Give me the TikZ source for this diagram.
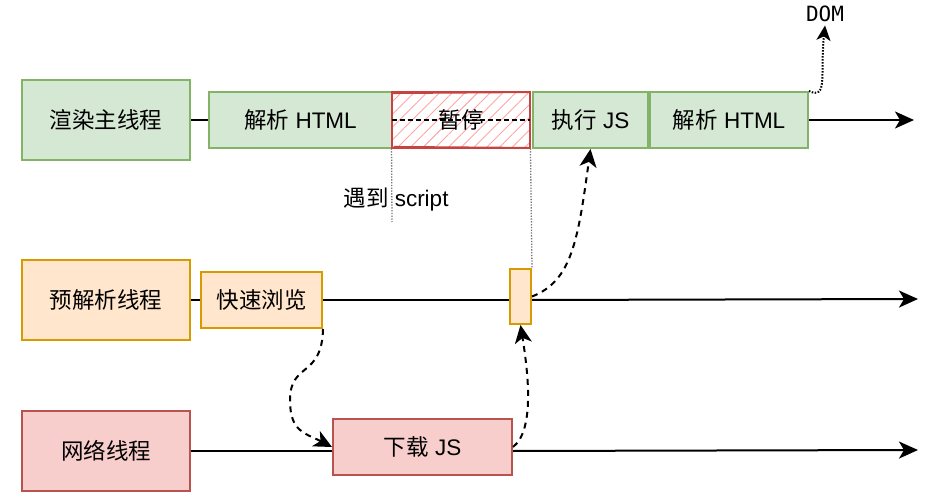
\documentclass[tikz,border=0pt]{standalone}
\usepackage{fontspec}
\setmainfont{Liberation Sans}
\newfontfamily\cjk{Noto Sans CJK SC}
\newfontfamily\monofont{DejaVu Sans Mono}
\usetikzlibrary{arrows.meta, patterns.meta}

\definecolor{greenfill}{HTML}{D5E8D4}
\definecolor{greenline}{HTML}{82B366}
\definecolor{orangefill}{HTML}{FFE6CC}
\definecolor{orangeline}{HTML}{D79B00}
\definecolor{redfill}{HTML}{F8CECC}
\definecolor{redline}{HTML}{B85450}

\begin{document}
\begin{tikzpicture}[
    x=1pt, y=-1pt,
    every node/.style = {font=\fontsize{22.5}{26}\selectfont},
    box/.style        = {rectangle, draw, line width=2pt, inner sep=0pt},
    greenbox/.style   = {box, fill=greenfill, draw=greenline},
    orangebox/.style  = {box, fill=orangefill, draw=orangeline},
    redbox/.style     = {box, fill=redfill, draw=redline},
    thread/.style     = {minimum width=168pt, minimum height=80pt},
    task/.style       = {minimum height=56pt},
    tl/.style         = {line width=2pt},
    tlarrow/.style    = {tl, -{Stealth[length=19pt,width=17pt,inset=5pt]}},
    flow/.style       = {line width=2pt, dash pattern=on 6pt off 5pt,
                         -{Stealth[length=18pt,width=17pt,inset=5pt]}},
    guide/.style      = {line width=1.3pt, dash pattern=on 1.3pt off 1.5pt, gray!90!black}
    ]
      \useasboundingbox (0,0) rectangle (939,494);

      % threads --------------------------------------------------
      \node[greenbox,thread]   (main) at (106,120) {\cjk 渲染主线程};
      \node[orangebox,thread]  (pre)  at (106,300) {\cjk 预解析线程};
      \node[redbox,thread]     (net)  at (106,451) {\cjk 网络线程};

      % main thread tasks ---------------------------------------
      \node[greenbox,task,minimum width=183pt] (parse1) at (300.5,120) {{\cjk 解析} HTML};
      \node[box,task,minimum width=138pt,draw=redline!80!red,fill=white,
            pattern={Lines[angle=45,distance=9pt,line width=0.9pt]},
            pattern color=red!35] (pause) at (461,120) {};
      \draw[redline!80!red, line width=1pt] ([shift={(2,-2)}]pause.south west) -- ([shift={(-1,-1)}]pause.south east)
            ([shift={(1,2)}]pause.north west) -- ([shift={(-2,1)}]pause.north east);
      \draw[line width=1.2pt, dash pattern=on 5pt off 3pt] (pause.west) -- (pause.east);
      \node (pausetext) at (461,120) {\cjk 暂停};
      \node[greenbox,task,minimum width=115pt] (exec)   at (590.5,120) {{\cjk 执行} JS};
      \node[greenbox,task,minimum width=158pt] (parse2) at (729,120)   {{\cjk 解析} HTML};

      % preparse tasks ------------------------------------------
      \node[orangebox,task,minimum width=121pt] (skim)    at (261.5,300) {\cjk 快速浏览};
      \node[orangebox,minimum width=21pt,minimum height=55pt] (jsready) at (520.5,296.5) {};

      % network tasks -------------------------------------------
      \node[redbox,task,minimum width=179pt] (dl) at (422.5,447) {{\cjk 下载} JS};

      % labels --------------------------------------------------
      \node (meet) at (396,200) {{\cjk 遇到} script};
      \node[font=\monofont\fontsize{21}{24}\selectfont] (dom) at (825,14) {DOM};

      % timelines -----------------------------------------------
      \coordinate (mainEnd) at (914,120);
      \coordinate (preEnd)  at (918,299);
      \coordinate (netEnd)  at (918,450);
      \coordinate (meetEnd) at (392,222);
      \draw[tl] (main) -- (parse1);
      \draw[tlarrow] (parse2.east) -- (mainEnd);
      \draw[tl] (pre) -- (skim);
      \draw[tl] (skim.east) -- (jsready.west |- skim.east);
      \draw[tlarrow] (jsready.east |- skim.east) -- (preEnd);
      \draw[tl] (net) -- (dl.west |- net.east);
      \draw[tlarrow] (dl.east |- net.east) -- (netEnd);

      % guides --------------------------------------------------
      \draw[guide] (pause.south west) -- (meetEnd);
      \draw[guide] (pause.south east) -- (jsready.north east);

      % flow ----------------------------------------------------
      \draw[flow] (skim.south east) .. controls (322,378) and (290,362) .. (290,400)
            .. controls (290,432) and (305,433) .. (dl.west);
      \draw[flow] (dl.east) .. controls (535,430) and (528,372) .. (jsready.south);
      \draw[flow] (jsready.east) .. controls (572,281) and (578,240) .. (exec.south);
      \draw[line width=2pt, dash pattern=on 1.5pt off 1.5pt,
            -{Stealth[length=15pt,width=14pt,inset=4pt]}]
            (parse2.north east) .. controls (828,100) and (820,75) .. (dom.south);
\end{tikzpicture}
\end{document}
